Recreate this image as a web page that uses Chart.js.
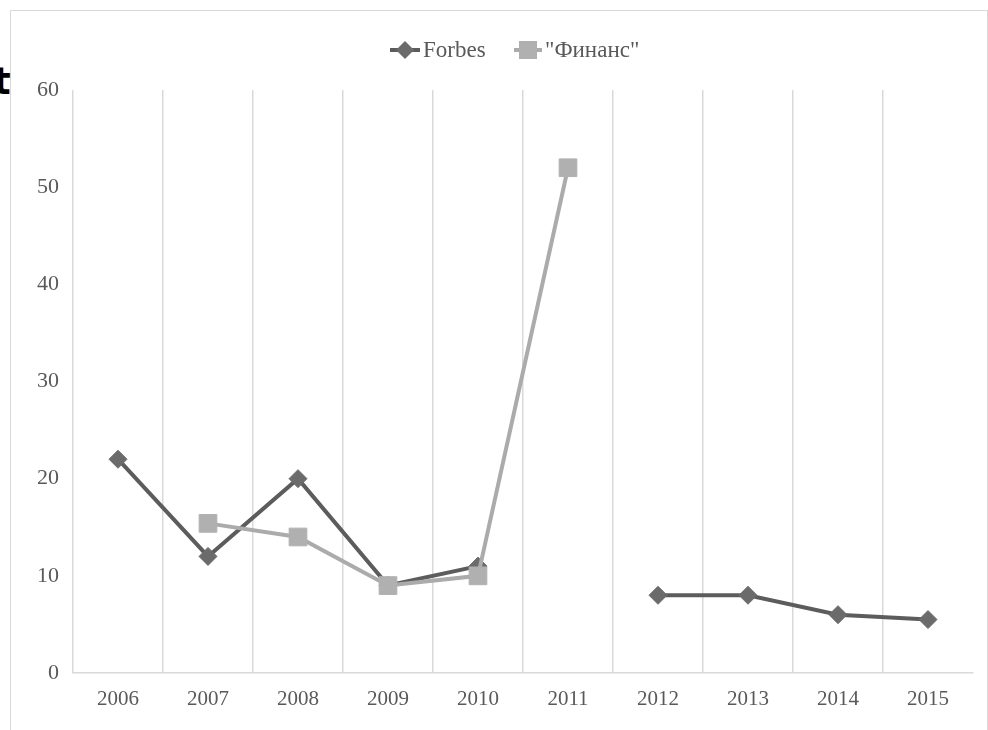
<!DOCTYPE html>
<html>
<head>
<meta charset="utf-8">
<script src="https://cdn.jsdelivr.net/npm/chart.js@4/dist/chart.umd.min.js"></script>
<style>
  html, body { margin: 0; padding: 0; background: #fff; overflow: hidden; }
  #wrap { position: relative; width: 988px; height: 730px; }
  #frame { position: absolute; left: 10px; top: 10px; width: 976px; height: 740px; border: 1px solid #d9d9d9; }
  #cut { position: absolute; left: -7px; top: 60px; font: bold 37px "DejaVu Sans"; color: #000; }
  canvas { position: absolute; left: 0; top: 0; }
</style>
</head>
<body>
<div id="wrap">
  <div id="frame"></div>
  <div id="cut">t</div>
  <canvas id="chart" width="988" height="730"></canvas>
</div>
<script>
// data
const years = ['2006', '2007', '2008', '2009', '2010', '2011', '2012', '2013', '2014', '2015'];
const forbes = [22, 12, 20, 9, 11, null, 8, 8, 6, 5.5];
const finans = [null, 15.4, 14, 9, 10, 52, null, null, null, null];
const yTicks = [0, 10, 20, 30, 40, 50, 60];
const seriesNames = ['Forbes', '"Финанс"'];

const darkLine = '#5c5c5c';
const darkMark = '#6b6b6b';
const lightLine = '#ababab';
const lightMark = '#b0b0b0';
const textColor = '#595959';
const serif = '"Liberation Serif"';

// legend drawn by hand so the line stub sits under the marker, like the original
const handLegend = {
  id: 'handLegend',
  afterDraw(chart) {
    const g = chart.ctx;
    const y = 50;
    g.save();
    g.lineWidth = 4;
    // Forbes
    g.strokeStyle = darkLine;
    g.beginPath(); g.moveTo(390, y); g.lineTo(420, y); g.stroke();
    g.fillStyle = darkMark;
    g.beginPath();
    g.moveTo(405, y - 9); g.lineTo(414, y); g.lineTo(405, y + 9); g.lineTo(396, y);
    g.closePath(); g.fill();
    // Финанс
    g.strokeStyle = lightLine;
    g.beginPath(); g.moveTo(514, y); g.lineTo(542, y); g.stroke();
    g.fillStyle = lightMark;
    g.fillRect(519, y - 9, 18, 18);
    // labels
    g.fillStyle = textColor;
    g.font = '23px ' + serif;
    g.textBaseline = 'middle';
    g.textAlign = 'left';
    g.fillText(seriesNames[0], 423, y + 1);
    g.fillText(seriesNames[1], 545, y + 1);
    g.restore();
  }
};

const ctx = document.getElementById('chart').getContext('2d');
new Chart(ctx, {
  type: 'line',
  data: {
    labels: years,
    datasets: [
      {
        label: seriesNames[0],
        data: forbes,
        order: 1,
        borderColor: darkLine,
        borderWidth: 4,
        pointStyle: 'rectRot',
        pointRadius: 9,
        pointBackgroundColor: darkMark,
        pointBorderColor: darkMark,
        pointBorderWidth: 1,
        tension: 0,
        spanGaps: false
      },
      {
        label: seriesNames[1],
        data: finans,
        order: 0,
        borderColor: lightLine,
        borderWidth: 4,
        pointStyle: 'rect',
        pointRadius: 12.5,
        pointBackgroundColor: lightMark,
        pointBorderColor: lightMark,
        pointBorderWidth: 1,
        tension: 0,
        spanGaps: false
      }
    ]
  },
  options: {
    responsive: false,
    animation: false,
    devicePixelRatio: 1,
    layout: { padding: { left: 0, right: 15, top: 90, bottom: 0 } },
    plugins: {
      tooltip: { enabled: false },
      legend: { display: false }
    },
    scales: {
      x: {
        offset: true,
        grid: {
          offset: true,
          drawTicks: false,
          lineWidth: 1.5,
          // the closing line on the right edge has no tick behind it: hide it
          color: function (c) { return c.type === 'tick' ? '#d9d9d9' : 'rgba(0,0,0,0)'; }
        },
        border: { display: true, color: '#d9d9d9', width: 1.5 },
        ticks: {
          padding: 14,
          color: textColor,
          font: { family: serif, size: 21 },
          maxRotation: 0
        },
        afterFit: function (s) { s.height = 57; }
      },
      y: {
        min: 0,
        max: 60,
        grid: { display: false, drawTicks: false },
        border: { display: false },
        afterBuildTicks: function (s) { s.ticks = yTicks.map(v => ({ value: v })); },
        ticks: {
          padding: 14,
          color: textColor,
          font: { family: serif, size: 22 }
        },
        afterFit: function (s) { s.width = 73; }
      }
    }
  },
  plugins: [handLegend]
});
</script>
</body>
</html>
